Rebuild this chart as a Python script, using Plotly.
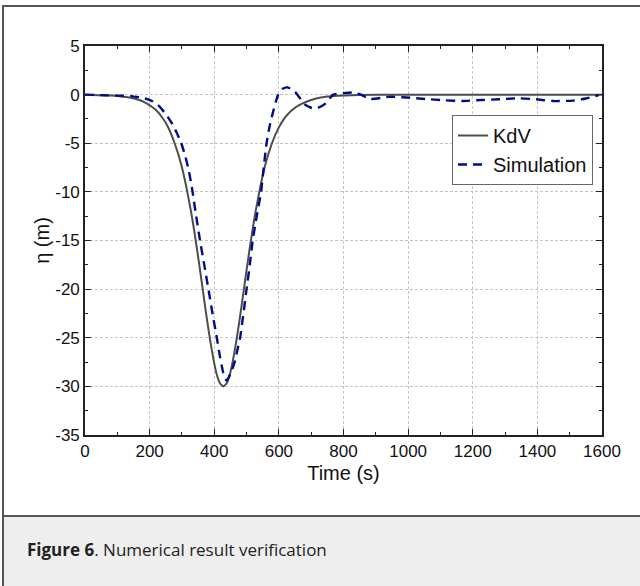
import plotly.graph_objects as go

# ---- data ----
kdv_t = [0, 78, 128, 158, 188, 218, 238, 258, 278, 298, 313, 328, 338, 348, 358, 368, 378, 388, 398, 408,
         418, 428, 438, 448, 458, 468, 478, 488, 498, 508, 518, 528, 543, 558, 578, 598, 618, 640, 670,
         700, 730, 780, 850, 950, 1600]
kdv_eta = [0, -0.09, -0.25, -0.45, -0.84, -1.54, -2.3, -3.4, -5.05, -7.2, -9.4, -12.0, -14.0, -16.2, -18.5,
           -20.9, -23.25, -25.4, -27.3, -28.8, -29.7, -30.0, -29.7, -28.8, -27.3, -25.4, -23.25, -20.9,
           -18.5, -16.2, -14.0, -12.0, -9.4, -7.2, -5.05, -3.5, -2.4, -1.6, -0.95, -0.55, -0.3, -0.12,
           -0.04, 0, 0]

sim_t = [0, 50, 100, 144, 186, 210, 230, 250, 270, 285, 297, 310, 320, 332, 344, 356, 369, 382, 395, 408,
         418, 428, 438, 446, 455, 464, 472, 480, 490, 500, 510, 519, 532, 545, 553, 562, 571, 581, 590,
         598, 612, 627, 650, 680, 700, 717, 745, 768, 800, 828, 850, 884, 942, 995, 1052, 1111, 1169,
         1228, 1282, 1341, 1396, 1449, 1509, 1550, 1590]
sim_eta = [0, -0.05, -0.1, -0.15, -0.4, -0.7, -1.2, -2.0, -3.0, -4.0, -4.9, -6.3, -7.6, -9.8, -12.5,
           -15.0, -17.5, -20.0, -22.6, -25.0, -27.0, -28.6, -29.4, -29.0, -28.3, -27.4, -26.2, -25.0,
           -22.6, -20.0, -17.5, -15.0, -12.4, -10.0, -7.5, -5.0, -3.3, -1.9, -0.8, 0, 0.6, 0.75, 0.3,
           -1.0, -1.35, -1.42, -0.9, 0.0, 0.15, 0.22, 0.05, -0.45, -0.22, -0.3, -0.45, -0.58, -0.65,
           -0.55, -0.48, -0.38, -0.48, -0.66, -0.62, -0.4, -0.05]

x_ticks = [0, 200, 400, 600, 800, 1000, 1200, 1400, 1600]
x_ticklabels = ["0", "200", "400", "600", "800", "1000", "1200", "1400", "1600"]
y_ticks = [5, 0, -5, -10, -15, -20, -25, -30, -35]
y_ticklabels = ["5", "0", "-5", "-10", "-15", "-20", "-25", "-30", "-35"]

# ---- layout geometry (pixels) ----
W, H = 640, 586
L, R, T, B = 85, 602, 46, 435
pw, ph = R - L, B - T


def px(x):
    return (x - L) / pw


def py(y):
    return (B - y) / ph


fig = go.Figure()
fig.add_trace(go.Scatter(x=kdv_t, y=kdv_eta, mode="lines", name="KdV",
                         line=dict(color="#4d4d4d", width=2, shape="spline", smoothing=0.4)))
fig.add_trace(go.Scatter(x=sim_t, y=sim_eta, mode="lines", name="Simulation",
                         line=dict(color="#000c8c", width=2.4, dash="9px,6px", shape="spline", smoothing=0.5)))

axis_common = dict(
    showline=True, linecolor="#222", linewidth=1.6, mirror="allticks",
    ticks="inside", ticklen=6, tickwidth=1.4, tickcolor="#222",
    showgrid=True, gridcolor="#c4c4c4", gridwidth=1, griddash="3px,2px",
    zeroline=False, tickfont=dict(family="Liberation Sans, Arial", size=17, color="#111"),
)

fig.update_xaxes(
    range=[0, 1600], tickvals=x_ticks, ticktext=x_ticklabels,
    minor=dict(dtick=100, tick0=0, ticks="inside", ticklen=3, tickwidth=1.2, tickcolor="#222", showgrid=False),
    title=dict(text="Time (s)", font=dict(family="Liberation Sans, Arial", size=20, color="#111"), standoff=6),
    **axis_common,
)
fig.update_yaxes(
    range=[-35, 5], tickvals=y_ticks, ticktext=y_ticklabels,
    minor=dict(dtick=2.5, tick0=0, ticks="inside", ticklen=3, tickwidth=1.2, tickcolor="#222", showgrid=False),
    title=dict(text="η (m)", font=dict(family="Liberation Sans, Arial", size=20, color="#111"), standoff=0),
    **axis_common,
)

shapes = [
    # caption background
    dict(type="rect", xref="paper", yref="paper", x0=px(3), x1=px(660), y0=py(516), y1=py(620),
         fillcolor="#eeeeee", line=dict(width=0), layer="below"),
    # outer border
    dict(type="rect", xref="paper", yref="paper", x0=px(3), x1=px(660), y0=py(6), y1=py(620),
         fillcolor="rgba(0,0,0,0)", line=dict(color="#555", width=2), layer="below"),
    # separator line
    dict(type="line", xref="paper", yref="paper", x0=px(3), x1=px(660), y0=py(516), y1=py(516),
         line=dict(color="#555", width=2), layer="below"),
]

fig.update_layout(
    width=W, height=H,
    margin=dict(l=L, r=W - R, t=T, b=H - B),
    paper_bgcolor="white", plot_bgcolor="white",
    shapes=shapes,
    showlegend=True,
    legend=dict(x=px(593), y=py(115), xanchor="right", yanchor="top",
                bgcolor="white", bordercolor="#666", borderwidth=1,
                font=dict(family="Liberation Sans, Arial", size=20, color="#111"),
                tracegroupgap=0, itemwidth=30),
    annotations=[dict(xref="paper", yref="paper", x=px(25), y=py(549), xanchor="left", yanchor="middle",
                      showarrow=False, align="left",
                      text="<b>Figure 6</b>. Numerical result verification",
                      font=dict(family="Open Sans, Noto Sans", size=17, color="#222"))],
)

fig.write_html("out.html", config={"displayModeBar": False},
               post_script="document.body.style.margin='0';")
